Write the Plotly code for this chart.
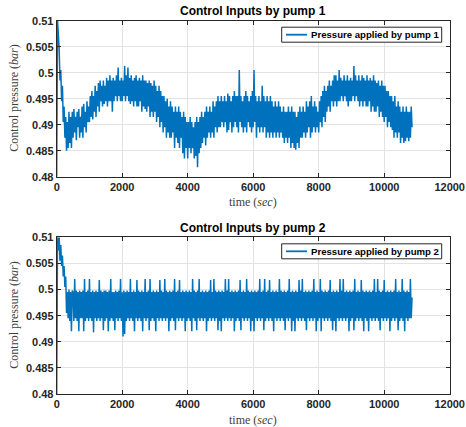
import numpy as np
import plotly.graph_objects as go

# Sampling interval of the logged control inputs (seconds)
SAMPLE_DT = 25

# Control pressure commanded to pump 1 (bar), one row per 250 s
pump1_pressure = [
    0.48, 0.51, 0.5075, 0.5045, 0.4985, 0.5005, 0.4945, 0.4975, 0.4905, 0.4935,
    0.4875, 0.4915, 0.485, 0.4905, 0.4855, 0.4925, 0.4865, 0.4915, 0.4855, 0.4925,
    0.4875, 0.493, 0.4885, 0.4915, 0.487, 0.4925, 0.4895, 0.493, 0.4875, 0.4915,
    0.4885, 0.4935, 0.4875, 0.494, 0.4895, 0.4925, 0.4885, 0.4945, 0.4905, 0.4935,
    0.4905, 0.4955, 0.4915, 0.4965, 0.491, 0.4955, 0.4925, 0.4975, 0.4915, 0.4965,
    0.4935, 0.498, 0.4925, 0.4985, 0.4945, 0.4975, 0.4935, 0.4985, 0.494, 0.4975,
    0.4945, 0.499, 0.4935, 0.4985, 0.4945, 0.4995, 0.4945, 0.4985, 0.4925, 0.499,
    0.4945, 0.4985, 0.4955, 0.4995, 0.4945, 0.501, 0.4955, 0.4985, 0.4945, 0.499,
    0.4945, 0.4985, 0.4955, 0.5013, 0.4945, 0.4995, 0.4955, 0.501, 0.4945, 0.499,
    0.494, 0.4995, 0.4945, 0.4985, 0.4935, 0.499, 0.4945, 0.4995, 0.4935, 0.4985,
    0.4935, 0.499, 0.4945, 0.4985, 0.4925, 0.4995, 0.4935, 0.4985, 0.493, 0.4985,
    0.4925, 0.498, 0.4935, 0.4985, 0.4915, 0.498, 0.4925, 0.4975, 0.4915, 0.4985,
    0.4925, 0.4975, 0.4905, 0.4965, 0.4915, 0.4975, 0.4895, 0.4965, 0.4905, 0.4955,
    0.4885, 0.4955, 0.4895, 0.4945, 0.4875, 0.495, 0.4885, 0.4935, 0.4875, 0.4945,
    0.4875, 0.4935, 0.4885, 0.4925, 0.4855, 0.4935, 0.4875, 0.4925, 0.4865, 0.4935,
    0.4855, 0.4925, 0.4875, 0.4915, 0.4845, 0.4925, 0.4835, 0.4915, 0.4855, 0.4905,
    0.4835, 0.4905, 0.4855, 0.4915, 0.4845, 0.4905, 0.4855, 0.4895, 0.4835, 0.4905,
    0.484, 0.4915, 0.4818, 0.4905, 0.4845, 0.4915, 0.4855, 0.4925, 0.4865, 0.4915,
    0.4875, 0.4925, 0.486, 0.4935, 0.4875, 0.4925, 0.4885, 0.4935, 0.4875, 0.4925,
    0.4885, 0.4945, 0.4875, 0.4935, 0.4895, 0.4945, 0.4885, 0.4955, 0.4895, 0.4945,
    0.4895, 0.4955, 0.4905, 0.4945, 0.4895, 0.4955, 0.4905, 0.4945, 0.4885, 0.496,
    0.489, 0.4955, 0.4905, 0.4945, 0.4885, 0.4955, 0.4895, 0.4965, 0.4905, 0.4955,
    0.4895, 0.4955, 0.4885, 0.5005, 0.4905, 0.4955, 0.4895, 0.4945, 0.4885, 0.4955,
    0.4895, 0.4965, 0.4885, 0.4955, 0.4905, 0.4945, 0.4895, 0.4955, 0.4885, 0.4965,
    0.4895, 0.5005, 0.4905, 0.4955, 0.4875, 0.4945, 0.4895, 0.4955, 0.4885, 0.4945,
    0.4895, 0.4975, 0.4885, 0.4955, 0.4895, 0.4945, 0.4875, 0.4955, 0.4885, 0.4945,
    0.4875, 0.4955, 0.4885, 0.4945, 0.4875, 0.4935, 0.4885, 0.4945, 0.4875, 0.4935,
    0.4885, 0.4945, 0.4875, 0.4935, 0.4885, 0.4925, 0.4875, 0.4935, 0.4865, 0.4925,
    0.4875, 0.4925, 0.4865, 0.4935, 0.4875, 0.4925, 0.4855, 0.4935, 0.4865, 0.4925,
    0.4855, 0.4925, 0.4852, 0.4915, 0.4865, 0.4925, 0.4855, 0.4935, 0.4875, 0.4925,
    0.4875, 0.4935, 0.4885, 0.4925, 0.4875, 0.4945, 0.4885, 0.4935, 0.4895, 0.4945,
    0.4875, 0.4955, 0.4885, 0.4935, 0.4895, 0.4945, 0.4885, 0.4935, 0.4895, 0.4925,
    0.4885, 0.4945, 0.4905, 0.4955, 0.4895, 0.4965, 0.4915, 0.4975, 0.4905, 0.4965,
    0.4925, 0.4975, 0.4935, 0.4985, 0.4925, 0.4975, 0.4945, 0.4985, 0.4935, 0.4995,
    0.4945, 0.4995, 0.4935, 0.4985, 0.4945, 0.5005, 0.4945, 0.499, 0.4955, 0.4985,
    0.4945, 0.4995, 0.4955, 0.4985, 0.4945, 0.4995, 0.4935, 0.4985, 0.4945, 0.499,
    0.4945, 0.4985, 0.4955, 0.5013, 0.4945, 0.4995, 0.4955, 0.4985, 0.4945, 0.4995,
    0.4935, 0.4985, 0.4945, 0.4995, 0.4935, 0.499, 0.4945, 0.4985, 0.4935, 0.4995,
    0.4935, 0.4985, 0.4945, 0.499, 0.4925, 0.4985, 0.4935, 0.4995, 0.4925, 0.4985,
    0.4925, 0.498, 0.4935, 0.4985, 0.4915, 0.4975, 0.4925, 0.4985, 0.4915, 0.4975,
    0.4905, 0.4975, 0.4915, 0.4965, 0.4895, 0.4965, 0.4905, 0.4955, 0.4895, 0.4955,
    0.489, 0.4945, 0.4875, 0.4955, 0.4885, 0.4935, 0.4875, 0.4945, 0.4885, 0.4935,
    0.4865, 0.4925, 0.4875, 0.4935, 0.4865, 0.4925, 0.4868, 0.4935, 0.4875, 0.4925,
    0.4868, 0.4925, 0.4875, 0.4935, 0.4895,
]

# Control pressure commanded to pump 2 (bar), one row per 250 s
pump2_pressure = [
    0.48, 0.51, 0.5075, 0.51, 0.5055, 0.5085, 0.5045, 0.5065, 0.5025, 0.5045,
    0.5005, 0.5025, 0.4955, 0.4995, 0.4945, 0.5, 0.494, 0.4995, 0.492, 0.4998,
    0.4995, 0.494, 0.502, 0.4945, 0.4998, 0.494, 0.4995, 0.492, 0.4998, 0.4945,
    0.4995, 0.4945, 0.4998, 0.492, 0.502, 0.494, 0.4995, 0.4945, 0.4998, 0.494,
    0.502, 0.4945, 0.4995, 0.494, 0.4998, 0.4918, 0.4995, 0.4945, 0.4998, 0.494,
    0.4995, 0.4945, 0.5018, 0.494, 0.4998, 0.4945, 0.4995, 0.4922, 0.4998, 0.494,
    0.4998, 0.4945, 0.4995, 0.492, 0.4998, 0.494, 0.502, 0.4945, 0.4995, 0.494,
    0.4995, 0.4922, 0.4998, 0.4945, 0.4995, 0.494, 0.4998, 0.4945, 0.502, 0.494,
    0.4995, 0.491, 0.4998, 0.4915, 0.4995, 0.494, 0.4998, 0.4945, 0.4995, 0.494,
    0.502, 0.4945, 0.4995, 0.494, 0.4998, 0.492, 0.4995, 0.4945, 0.5018, 0.494,
    0.4998, 0.4945, 0.4995, 0.494, 0.4998, 0.492, 0.4995, 0.4945, 0.502, 0.494,
    0.4995, 0.4945, 0.4998, 0.4922, 0.502, 0.494, 0.4995, 0.4945, 0.4998, 0.494,
    0.4995, 0.492, 0.4998, 0.4945, 0.4995, 0.494, 0.5018, 0.4945, 0.4998, 0.494,
    0.4995, 0.4945, 0.502, 0.494, 0.4998, 0.4945, 0.4995, 0.492, 0.4998, 0.494,
    0.4995, 0.4945, 0.4998, 0.494, 0.502, 0.4922, 0.4995, 0.4945, 0.4998, 0.494,
    0.5018, 0.4945, 0.4995, 0.494, 0.4998, 0.4945, 0.4995, 0.492, 0.4998, 0.494,
    0.4995, 0.4945, 0.4998, 0.494, 0.4995, 0.492, 0.502, 0.4945, 0.4998, 0.494,
    0.4995, 0.4922, 0.4998, 0.4945, 0.502, 0.494, 0.4995, 0.4945, 0.4998, 0.494,
    0.4995, 0.4945, 0.4998, 0.492, 0.4995, 0.494, 0.4998, 0.4945, 0.5018, 0.494,
    0.4995, 0.4945, 0.502, 0.494, 0.4998, 0.4945, 0.4995, 0.4922, 0.4998, 0.494,
    0.4995, 0.492, 0.4998, 0.4945, 0.4995, 0.494, 0.502, 0.4945, 0.4998, 0.494,
    0.502, 0.4945, 0.4995, 0.494, 0.4998, 0.4945, 0.4995, 0.492, 0.4998, 0.494,
    0.4995, 0.4945, 0.4998, 0.494, 0.5018, 0.4922, 0.4995, 0.4945, 0.4998, 0.494,
    0.4995, 0.4945, 0.502, 0.494, 0.4998, 0.4945, 0.4995, 0.492, 0.4998, 0.494,
    0.4995, 0.492, 0.4998, 0.4945, 0.4995, 0.494, 0.4998, 0.4945, 0.502, 0.494,
    0.4995, 0.4945, 0.4998, 0.4922, 0.502, 0.494, 0.4995, 0.4945, 0.4998, 0.494,
    0.5018, 0.4945, 0.4995, 0.494, 0.4998, 0.492, 0.4995, 0.4945, 0.4998, 0.494,
    0.4995, 0.4945, 0.502, 0.494, 0.4998, 0.4945, 0.4995, 0.494, 0.4998, 0.4922,
    0.4995, 0.4945, 0.4998, 0.494, 0.502, 0.4945, 0.4995, 0.492, 0.4998, 0.494,
    0.4995, 0.492, 0.4998, 0.4945, 0.4995, 0.494, 0.5018, 0.4945, 0.4998, 0.494,
    0.502, 0.4945, 0.4995, 0.494, 0.4998, 0.4922, 0.4995, 0.4945, 0.4998, 0.494,
    0.4995, 0.4945, 0.4998, 0.494, 0.502, 0.4945, 0.4995, 0.492, 0.4998, 0.494,
    0.4995, 0.4945, 0.502, 0.492, 0.4998, 0.4945, 0.4995, 0.494, 0.4998, 0.4945,
    0.4995, 0.494, 0.4998, 0.4945, 0.5018, 0.494, 0.4995, 0.4922, 0.4998, 0.494,
    0.4995, 0.492, 0.4998, 0.4945, 0.4995, 0.494, 0.502, 0.4945, 0.4998, 0.494,
    0.502, 0.4945, 0.4995, 0.494, 0.4998, 0.4945, 0.4995, 0.492, 0.4998, 0.494,
    0.4995, 0.4945, 0.4998, 0.4922, 0.502, 0.494, 0.4995, 0.4945, 0.4998, 0.494,
    0.4995, 0.4945, 0.5018, 0.494, 0.4998, 0.492, 0.4995, 0.4945, 0.4998, 0.494,
    0.4995, 0.492, 0.4998, 0.4945, 0.4995, 0.494, 0.4998, 0.4945, 0.502, 0.494,
    0.4995, 0.4945, 0.502, 0.494, 0.4998, 0.4922, 0.4995, 0.4945, 0.4998, 0.494,
    0.5018, 0.4945, 0.4995, 0.494, 0.4998, 0.4945, 0.4995, 0.492, 0.4998, 0.494,
    0.4995, 0.4945, 0.4998, 0.494, 0.502, 0.4945, 0.4995, 0.4922, 0.4998, 0.494,
    0.4995, 0.4945, 0.502, 0.494, 0.4998, 0.492, 0.4995, 0.4945, 0.4998, 0.494,
    0.4995, 0.4945, 0.502, 0.4945, 0.4985,
]

x_tick_vals = [0, 2000, 4000, 6000, 8000, 10000, 12000]
x_tick_text = ["0", "2000", "4000", "6000", "8000", "10000", "12000"]
y_tick_vals = [0.48, 0.485, 0.49, 0.495, 0.5, 0.505, 0.51]
y_tick_text = ["0.48", "0.485", "0.49", "0.495", "0.5", "0.505", "0.51"]

titles = ["Control Inputs by pump 1", "Control Inputs by pump 2"]
legend_names = ["Pressure applied by pump 1", "Pressure applied by pump 2"]

W, H = 466, 427
LINE_BLUE = "#0072BD"
AXIS_DARK = "#262626"
GRID = "#e3e3e3"
SANS = "Liberation Sans"
SERIF = "Liberation Serif"

series = [pump1_pressure, pump2_pressure]

# pixel geometry of the two axes boxes
x_left, x_right = 56.7, 449.7
boxes = [(20.7, 176.7), (237.3, 394.0)]


def px_x(p):
    return p / W


def px_y(p):
    return 1 - p / H


xdom = [px_x(x_left), px_x(x_right)]

fig = go.Figure()
common_axis = dict(
    showline=True, linecolor=AXIS_DARK, linewidth=1, mirror="allticks",
    ticks="inside", ticklen=4, tickwidth=1, tickcolor=AXIS_DARK,
    showgrid=True, gridcolor=GRID, gridwidth=1, zeroline=False,
    tickfont=dict(family=SANS, size=11, color=AXIS_DARK, weight="bold"),
)
layout = dict(
    width=W, height=H, margin=dict(l=0, r=0, t=0, b=0, autoexpand=False),
    paper_bgcolor="white", plot_bgcolor="white", showlegend=False,
)
shapes, annotations = [], []
cx = (x_left + x_right) / 2

for i, (top, bot) in enumerate(boxes):
    sx = "" if i == 0 else "2"
    values = series[i]
    t = np.arange(len(values)) * SAMPLE_DT
    fig.add_trace(go.Scatter(x=t, y=values, mode="lines", name=legend_names[i],
                             line=dict(color=LINE_BLUE, width=1.5, simplify=False),
                             xaxis="x" + sx, yaxis="y" + sx))
    layout["xaxis" + sx] = dict(common_axis, domain=xdom, range=[0, 12000],
                                tickvals=x_tick_vals, ticktext=x_tick_text,
                                anchor="y" + sx)
    layout["yaxis" + sx] = dict(common_axis, domain=[px_y(bot), px_y(top)],
                                range=[0.48, 0.51],
                                tickvals=y_tick_vals, ticktext=y_tick_text,
                                anchor="x" + sx)

    # legend box in the upper right corner of the axes
    lt, lb = top + 6.5, top + 21.5
    shapes.append(dict(type="rect", xref="paper", yref="paper",
                       x0=px_x(281.7), x1=px_x(441.7), y0=px_y(lb), y1=px_y(lt),
                       line=dict(color=AXIS_DARK, width=1), fillcolor="white", layer="above"))
    ly = (lt + lb) / 2
    shapes.append(dict(type="line", xref="paper", yref="paper",
                       x0=px_x(286), x1=px_x(307), y0=px_y(ly), y1=px_y(ly),
                       line=dict(color=LINE_BLUE, width=1.8), layer="above"))
    annotations.append(dict(text=legend_names[i], x=px_x(308.5), y=px_y(ly),
                            xref="paper", yref="paper", showarrow=False,
                            xanchor="left", yanchor="middle",
                            font=dict(family=SANS, size=9.6, color="black", weight="bold")))

    annotations.append(dict(text=titles[i], x=px_x(cx), y=px_y(top - 9.5),
                            xref="paper", yref="paper", showarrow=False,
                            xanchor="center", yanchor="middle",
                            font=dict(family=SANS, size=12, color="black", weight="bold")))
    annotations.append(dict(text="time (<i>sec</i>)", x=px_x(cx), y=px_y(bot + 25.5),
                            xref="paper", yref="paper", showarrow=False,
                            xanchor="center", yanchor="middle",
                            font=dict(family=SERIF, size=12, color="#404040")))
    annotations.append(dict(text="Control pressure (<i>bar</i>)", x=px_x(14),
                            y=px_y((top + bot) / 2), xref="paper", yref="paper",
                            showarrow=False, textangle=-90,
                            xanchor="center", yanchor="middle",
                            font=dict(family=SERIF, size=12, color="#404040")))

layout["shapes"] = shapes
layout["annotations"] = annotations
fig.update_layout(**layout)

fig.write_html("out.html")
